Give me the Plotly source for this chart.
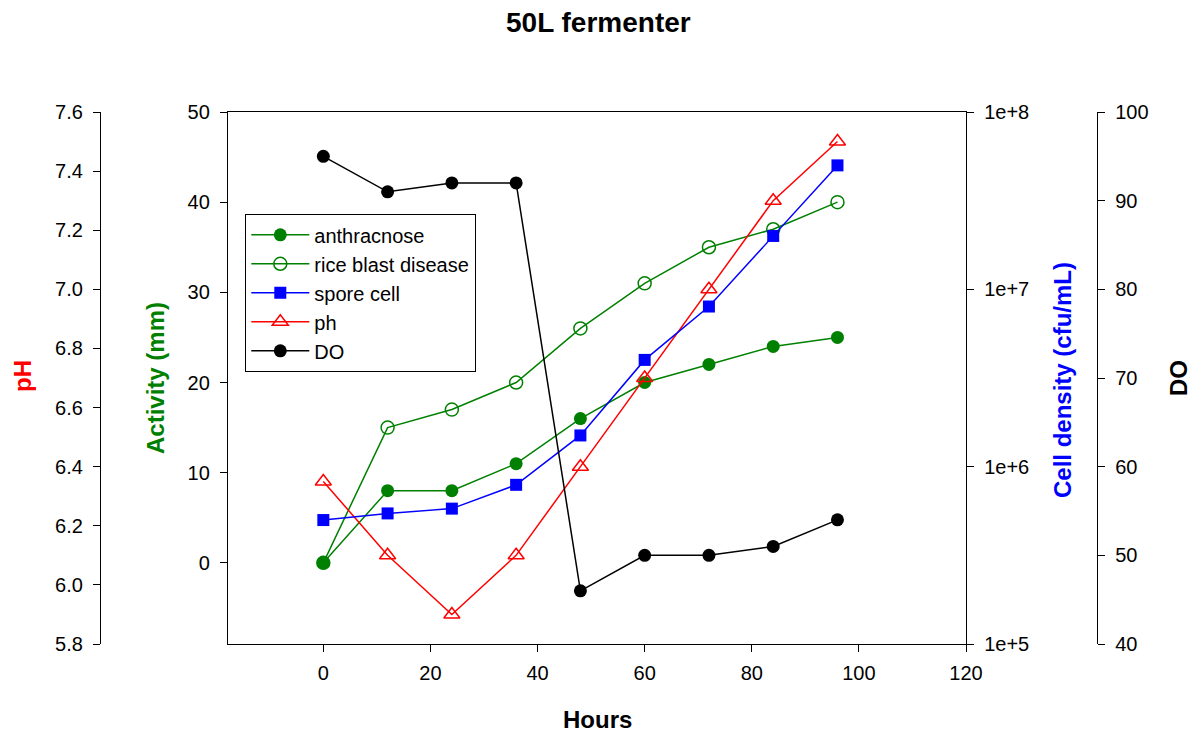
import plotly.graph_objects as go

# Fermentation time course in a 50 L fermenter
hours = [0, 12, 24, 36, 48, 60, 72, 84, 96]
anthracnose = [0, 8, 8, 11, 16, 20, 22, 24, 25]           # inhibition zone, mm
rice_blast = [0, 15, 17, 20, 26, 31, 35, 37, 40]          # inhibition zone, mm
spore_cell = [5.0e5, 5.45e5, 5.8e5, 7.9e5, 1.5e6, 4.0e6, 8.0e6, 2.0e7, 5.0e7]  # cfu/mL
ph_values = [6.35, 6.1, 5.9, 6.1, 6.4, 6.7, 7.0, 7.3, 7.5]
do_values = [95, 91, 92, 92, 46, 50, 50, 51, 54]

W, H = 1198, 734
FONT = "Arial, Liberation Sans, sans-serif"


def px(x):
    return x / W


def py(y):
    return 1 - y / H


fig = go.Figure()

fig.add_trace(go.Scatter(
    x=hours, y=anthracnose, name="anthracnose", mode="lines+markers",
    line=dict(color="#008000", width=1.5),
    marker=dict(symbol="circle", size=13, color="#008000"),
    yaxis="y"))
fig.add_trace(go.Scatter(
    x=hours, y=rice_blast, name="rice blast disease", mode="lines+markers",
    line=dict(color="#008000", width=1.5),
    marker=dict(symbol="circle-open", size=13, color="#008000", line=dict(width=1.5)),
    yaxis="y"))
fig.add_trace(go.Scatter(
    x=hours, y=spore_cell, name="spore cell", mode="lines+markers",
    line=dict(color="#0000FF", width=1.5),
    marker=dict(symbol="square", size=12, color="#0000FF"),
    yaxis="y3"))
fig.add_trace(go.Scatter(
    x=hours, y=ph_values, name="ph", mode="lines+markers",
    line=dict(color="#FF0000", width=1.5),
    marker=dict(symbol="triangle-up-open", size=14, color="#FF0000", line=dict(width=1.5)),
    yaxis="y2"))
fig.add_trace(go.Scatter(
    x=hours, y=do_values, name="DO", mode="lines+markers",
    line=dict(color="#000000", width=1.5),
    marker=dict(symbol="circle", size=13, color="#000000"),
    yaxis="y4"))

tick_font = dict(family=FONT, size=20, color="black")
axis_common = dict(
    showgrid=False, zeroline=False, showline=True, linecolor="black", linewidth=1.3,
    ticks="outside", ticklen=7, tickwidth=1.3, tickcolor="black", tickfont=tick_font,
    automargin=False,
)
y_common = dict(axis_common, ticklabelstandoff=6)

x0, x1 = px(228), px(966)
y0, y1 = py(644), py(112)

fig.update_layout(
    template="none",
    width=W, height=H,
    margin=dict(l=0, r=0, t=0, b=0, pad=0),
    paper_bgcolor="white", plot_bgcolor="white",
    font=dict(family=FONT, color="black"),
    showlegend=True,
    legend=dict(
        x=px(245), y=py(214), xanchor="left", yanchor="top",
        bordercolor="black", borderwidth=1.3, bgcolor="white",
        font=dict(family=FONT, size=20, color="black"),
        tracegroupgap=0, itemwidth=58,
    ),
    xaxis=dict(
        domain=[x0, x1], range=[-17.8, 120], tickvals=[0, 20, 40, 60, 80, 100, 120],
        mirror=True, ticklabelstandoff=4, **axis_common,
    ),
    yaxis=dict(
        domain=[y0, y1], range=[-9, 50], tickvals=[0, 10, 20, 30, 40, 50],
        side="left", anchor="x", **y_common,
    ),
    yaxis2=dict(
        range=[5.8, 7.6], tickvals=[5.8, 6.0, 6.2, 6.4, 6.6, 6.8, 7.0, 7.2, 7.4, 7.6],
        tickformat=".1f", overlaying="y", side="left", anchor="free", position=px(100),
        **y_common,
    ),
    yaxis3=dict(
        type="log", range=[5, 8], tickvals=[1e5, 1e6, 1e7, 1e8],
        ticktext=["1e+5", "1e+6", "1e+7", "1e+8"],
        overlaying="y", side="right", anchor="x", **y_common,
    ),
    yaxis4=dict(
        range=[40, 100], tickvals=[40, 50, 60, 70, 80, 90, 100],
        overlaying="y", side="right", anchor="free", position=px(1097),
        **y_common,
    ),
)

title_font = dict(family=FONT, size=24)
annotations = [
    dict(text="<b>50L fermenter</b>", x=px(598), y=py(22), font=dict(family=FONT, size=28, color="black")),
    dict(text="<b>Hours</b>", x=px(597), y=py(719), font=dict(title_font, color="black")),
    dict(text="<b>pH</b>", x=px(22), y=py(376), textangle=-90, font=dict(title_font, color="#FF0000")),
    dict(text="<b>Activity (mm)</b>", x=px(155), y=py(378), textangle=-90, font=dict(title_font, color="#008000")),
    dict(text="<b>Cell density (cfu/mL)</b>", x=px(1062), y=py(380), textangle=-90, font=dict(title_font, color="#0000FF")),
    dict(text="<b>DO</b>", x=px(1178), y=py(378), textangle=-90, font=dict(title_font, color="black")),
]
for a in annotations:
    fig.add_annotation(xref="paper", yref="paper", showarrow=False,
                       xanchor="center", yanchor="middle", **a)

fig.write_html("out.html")
